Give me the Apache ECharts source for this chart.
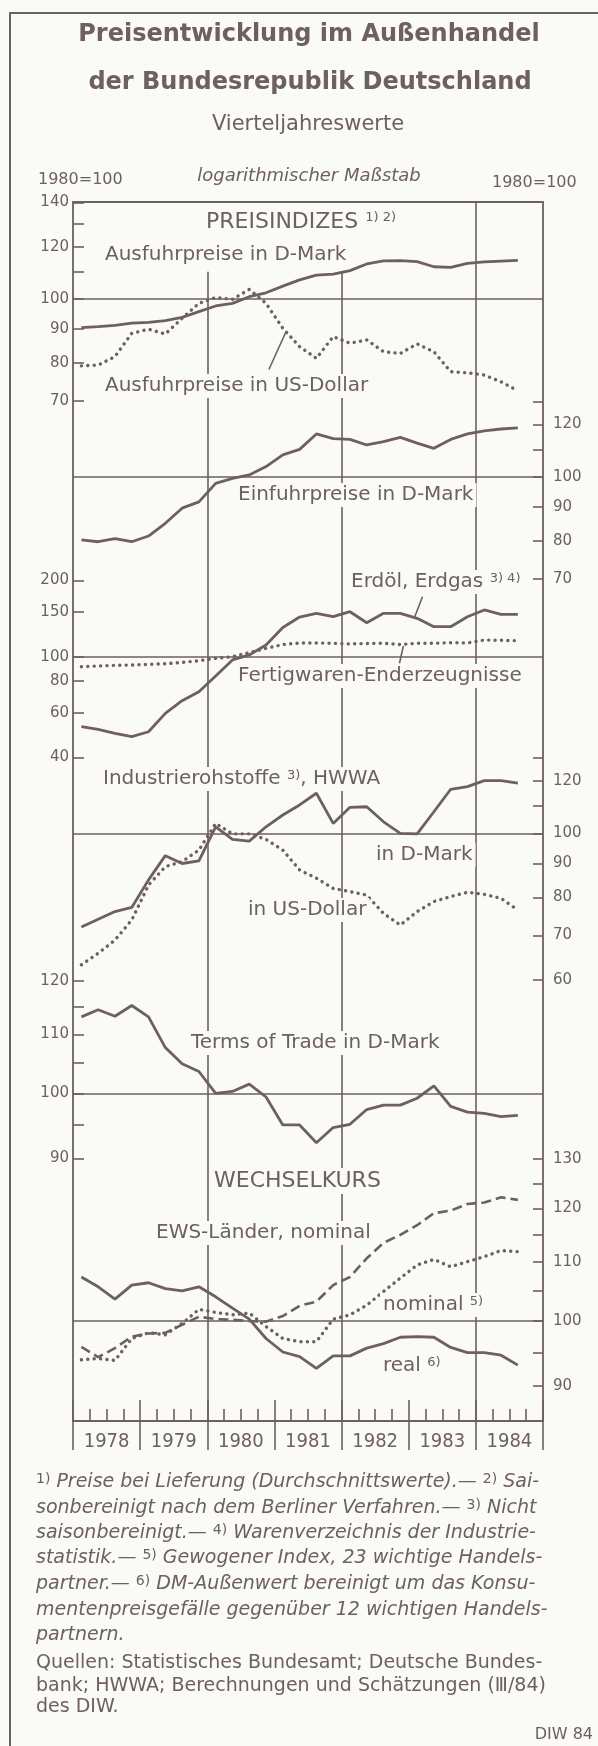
<!DOCTYPE html>
<html>
<head>
<meta charset="utf-8">
<title>Preisentwicklung im Außenhandel der Bundesrepublik Deutschland</title>
<script src="https://cdn.jsdelivr.net/npm/echarts@6/dist/echarts.min.js"></script>
<style>
  html, body { margin: 0; padding: 0; background: #fafaf8; }
  #chart { width: 598px; height: 1746px; }
</style>
</head>
<body>
<div id="chart"></div>
<script>
// Vierteljahreswerte 1978 I bis 1984 III, 1980 = 100
const years = ['1978', '1979', '1980', '1981', '1982', '1983', '1984'];

const ausfuhrDM  = [90.5, 90.8, 91.2, 91.9, 92.2, 92.7, 93.8, 95.7, 97.6, 98.5, 100.8, 102.2, 104.6, 106.9, 108.7, 109.1, 110.4, 113.0, 114.2, 114.3, 113.9, 111.9, 111.7, 113.2, 113.8, 114.1, 114.4];
const ausfuhrUSD = [79.2, 79.4, 81.8, 88.7, 90.0, 88.5, 93.5, 98.5, 100.5, 99.9, 103.4, 98.5, 90.3, 84.7, 81.3, 87.7, 85.7, 86.7, 83.2, 82.7, 85.5, 83.2, 77.6, 77.3, 76.7, 74.9, 72.6];
const einfuhrDM  = [80.2, 79.7, 80.6, 79.7, 81.3, 85.0, 89.6, 91.6, 97.7, 99.4, 100.6, 103.6, 107.9, 110.0, 116.1, 114.2, 113.9, 111.7, 113.0, 114.7, 112.4, 110.4, 113.9, 116.1, 117.3, 118.1, 118.6];
const erdoelGas  = [52.9, 51.6, 49.8, 48.3, 50.5, 59.7, 67.0, 72.7, 83.9, 97.1, 101.6, 111.2, 130.4, 143.5, 148.4, 143.9, 150.6, 136.2, 148.4, 148.4, 141.8, 131.4, 131.4, 143.9, 153.0, 147.1, 147.1];
const fertigwaren = [91.3, 91.9, 92.5, 92.7, 93.3, 93.8, 94.9, 96.4, 98.5, 100.0, 103.7, 107.9, 111.7, 113.3, 113.3, 113.0, 112.3, 112.8, 113.0, 111.7, 113.0, 113.0, 113.6, 113.3, 116.4, 116.1, 115.7];
const rohstoffDM  = [72.1, 74.1, 76.1, 77.2, 85.0, 92.5, 90.0, 90.8, 102.3, 97.9, 97.3, 102.3, 106.6, 110.4, 115.0, 103.5, 109.5, 109.7, 104.1, 100.0, 99.8, 107.8, 116.6, 117.7, 120.2, 120.2, 119.1];
const rohstoffUSD = [63.2, 65.8, 68.9, 73.9, 83.5, 89.0, 90.6, 94.3, 103.5, 99.8, 99.8, 97.9, 94.3, 88.0, 85.5, 82.5, 81.6, 80.6, 75.6, 72.6, 76.1, 78.8, 80.2, 81.4, 80.8, 79.7, 76.5];
const termsOfTrade = [113.2, 114.5, 113.3, 115.3, 113.2, 107.7, 104.9, 103.6, 100.0, 100.3, 101.5, 99.4, 95.0, 95.0, 92.3, 94.6, 95.1, 97.4, 98.1, 98.1, 99.2, 101.2, 97.9, 97.0, 96.8, 96.3, 96.5];
const ewsNominal = [95.9, 94.3, 95.7, 97.5, 98.0, 98.1, 99.4, 100.7, 100.3, 100.2, 100.0, 99.9, 100.8, 102.5, 103.2, 106.0, 107.4, 110.7, 113.5, 115.0, 116.8, 119.1, 119.6, 120.9, 121.2, 122.2, 121.7];
const kursNominal = [93.9, 94.1, 93.8, 97.2, 98.1, 97.8, 99.6, 101.9, 101.4, 101.0, 101.3, 99.1, 97.2, 96.7, 96.7, 100.3, 101.0, 102.6, 104.9, 107.2, 109.5, 110.5, 109.2, 110.1, 111.0, 112.1, 111.9];
const kursReal    = [107.4, 105.7, 103.6, 106.0, 106.4, 105.4, 105.0, 105.7, 104.0, 102.1, 100.3, 97.2, 95.1, 94.4, 92.6, 94.5, 94.5, 95.7, 96.4, 97.4, 97.5, 97.4, 95.8, 95.0, 95.0, 94.6, 93.1];

// tick marks and labelled ticks of each scale
const ticks1 = [70, 80, 90, 100, 110, 120, 130, 140];
const labels1 = [70, 80, 90, 100, 120, 140];
const ticks2 = [70, 80, 90, 100, 110, 120, 130];
const labels2 = [70, 80, 90, 100, 120];
const ticks3 = [40, 60, 80, 100, 150, 200];
const labels3 = [40, 60, 80, 100, 150, 200];
const ticks4 = [60, 70, 80, 90, 100, 110, 120, 130];
const labels4 = [60, 70, 80, 90, 100, 120];
const ticks5 = [90, 95, 100, 105, 110, 115, 120];
const labels5 = [90, 100, 110, 120];
const ticks6 = [90, 95, 100, 105, 110, 115, 120, 125, 130];
const labels6 = [90, 100, 110, 120, 130];

const ink = '#6d605e';
const paper = '#fafaf8';
const sans = '"DejaVu Sans", sans-serif';
const narrow = '"Liberation Sans Narrow", "DejaVu Sans Condensed", sans-serif';

// plot frame (px)
const plotTop = 202, plotBottom = 1421;
const plotH = plotBottom - plotTop;

// every panel is its own log scale: px per decade and height of its 100 line
function logAxis(position, pxPerDecade, y100, tickVals, labelVals) {
  const min = 2 - (plotBottom - y100) / pxPerDecade;
  return {
    type: 'value',
    position: position,
    min: min,
    max: min + plotH / pxPerDecade,
    axisLine: { show: false, onZero: false },
    splitLine: { show: false },
    axisTick: {
      show: true, inside: true,
      length: position === 'left' ? 11 : 10,
      customValues: tickVals.map(Math.log10),
      lineStyle: { color: ink, width: 1.6 }
    },
    axisLabel: {
      show: true,
      customValues: labelVals.map(Math.log10),
      formatter: v => String(Math.round(Math.pow(10, v))),
      margin: position === 'left' ? 4 : 10,
      color: ink, fontFamily: sans, fontSize: 15
    }
  };
}

const yAxes = [
  logAxis('left', 660, 299, ticks1, labels1),
  logAxis('right', 660, 476.7, ticks2, labels2),
  logAxis('left', 253, 656.7, ticks3, labels3),
  logAxis('right', 660, 833.3, ticks4, labels4),
  logAxis('left', 1420, 1093.3, ticks5, labels5),
  logAxis('right', 1420, 1321, ticks6, labels6)
];

const solid = { color: ink, width: 2.8, type: 'solid' };
const dotted = { color: ink, width: 3.4, type: [0.1, 6.3], cap: 'round' };
const dashed = { color: ink, width: 2.6, type: [10, 5] };
const thin = { color: ink, width: 1.6, type: 'solid' };

const toXY = vals => vals.map((v, i) => [i + 0.5, Math.log10(v)]);
const pt = (q, v) => ({ coord: [q, Math.log10(v)] });

function marks(lines) {
  return {
    silent: true, symbol: ['none', 'none'], label: { show: false },
    lineStyle: thin, animation: false, data: lines
  };
}
const line100 = [{ yAxis: 2 }];

function line(name, vals, axis, style, markLine) {
  const s = {
    name: name, type: 'line', xAxisIndex: 0, yAxisIndex: axis,
    data: toXY(vals), showSymbol: false, symbol: 'none',
    lineStyle: style, itemStyle: { color: ink }, z: 3,
    silent: true, animation: false, emphasis: { disabled: true }
  };
  if (markLine) s.markLine = marks(markLine);
  return s;
}

const p1 = yAxes[0];
const yearLines = [
  [pt(8, 110), { coord: [8, p1.min] }],
  [pt(16, 110), { coord: [16, p1.min] }],
  [{ coord: [24, p1.max] }, { coord: [24, p1.min] }]
];

const series = [
  line('Ausfuhrpreise in D-Mark', ausfuhrDM, 0, solid, line100.concat(yearLines)),
  line('Ausfuhrpreise in US-Dollar', ausfuhrUSD, 0, dotted, [[pt(12.69, 89.2), pt(11.67, 78.2)]]),
  line('Einfuhrpreise in D-Mark', einfuhrDM, 1, solid, line100),
  line('Erdöl, Erdgas', erdoelGas, 2, solid, line100.concat([[pt(20.82, 172.6), pt(20.36, 143.9)]])),
  line('Fertigwaren-Enderzeugnisse', fertigwaren, 2, dotted, [[pt(19.68, 110.2), pt(19.45, 94.2)]]),
  line('Industrierohstoffe in D-Mark', rohstoffDM, 3, solid, line100),
  line('Industrierohstoffe in US-Dollar', rohstoffUSD, 3, dotted),
  line('Terms of Trade in D-Mark', termsOfTrade, 4, solid, line100),
  line('EWS-Länder, nominal', ewsNominal, 5, dashed, line100),
  line('nominal', kursNominal, 5, dotted),
  line('real', kursReal, 5, solid)
];

// text helpers
const sup = { fontFamily: sans, fontSize: 13, fill: ink, verticalAlign: 'top' };

function tag(x, y, text, size) {
  const fs = size || 20;
  return {
    type: 'text', x: x, y: y, z: 100, silent: true,
    style: {
      text: text, fill: ink, fontFamily: sans, fontSize: fs,
      align: 'left', verticalAlign: 'middle',
      backgroundColor: paper, padding: [2, 3, 2, 3],
      rich: { a: { fontFamily: sans, fontSize: fs, fill: ink }, s: sup }
    }
  };
}
function head(x, y, text, st) {
  return {
    type: 'text', x: x, y: y, z: 100, silent: true,
    style: Object.assign({ text: text, fill: ink, fontFamily: sans, align: 'center', verticalAlign: 'middle' }, st)
  };
}
const noteRich = {
  i: { fontFamily: sans, fontStyle: 'italic', fontSize: 19, fill: ink },
  n: { fontFamily: sans, fontSize: 14, fill: ink, verticalAlign: 'top' }
};
function note(y, text) {
  return {
    type: 'text', x: 36, y: y, z: 100, silent: true,
    style: { text: text, fill: ink, align: 'left', verticalAlign: 'middle', rich: noteRich }
  };
}
function source(y, text) {
  return {
    type: 'text', x: 36, y: y, z: 100, silent: true,
    style: { text: text, fill: ink, fontFamily: sans, fontSize: 19, align: 'left', verticalAlign: 'middle' }
  };
}

const graphics = [
  { type: 'rect', z: 0, silent: true, shape: { x: 10, y: 13, width: 620, height: 1760 },
    style: { fill: 'none', stroke: ink, lineWidth: 2 } },
  head(309, 35, 'Preisentwicklung im Außenhandel', { fontSize: 24, fontWeight: 'bold' }),
  head(310, 83, 'der Bundesrepublik Deutschland', { fontSize: 24, fontWeight: 'bold' }),
  head(308, 125, 'Vierteljahreswerte', { fontSize: 21 }),
  head(38, 180, '1980=100', { fontSize: 16, align: 'left' }),
  head(309, 176, 'logarithmischer Maßstab', { fontSize: 18, fontStyle: 'italic' }),
  head(492, 183, '1980=100', { fontSize: 16, align: 'left' }),

  tag(203, 222, '{a|PREISINDIZES} {s|1) 2)}', 22),
  tag(102, 255, 'Ausfuhrpreise in D-Mark'),
  tag(102, 386, 'Ausfuhrpreise in US-Dollar'),
  tag(235, 495, 'Einfuhrpreise in D-Mark'),
  tag(348, 582, '{a|Erdöl, Erdgas} {s|3) 4)}'),
  tag(235, 676, 'Fertigwaren-Enderzeugnisse'),
  tag(100, 779, '{a|Industrierohstoffe} {s|3)}{a|, HWWA}'),
  tag(373, 855, 'in D-Mark'),
  tag(245, 910, 'in US-Dollar'),
  tag(188, 1043, 'Terms of Trade in D-Mark'),
  tag(211, 1181, 'WECHSELKURS', 22),
  tag(153, 1233, 'EWS-Länder, nominal'),
  tag(380, 1305, '{a|nominal} {s|5)}'),
  tag(380, 1366, '{a|real} {s|6)}'),

  note(1482, '{n|1)}{i| Preise bei Lieferung (Durchschnittswerte).— }{n|2)}{i| Sai-}'),
  note(1508, '{i|sonbereinigt nach dem Berliner Verfahren.— }{n|3)}{i| Nicht}'),
  note(1533, '{i|saisonbereinigt.— }{n|4)}{i| Warenverzeichnis der Industrie-}'),
  note(1558, '{i|statistik.— }{n|5)}{i| Gewogener Index, 23 wichtige Handels-}'),
  note(1584, '{i|partner.— }{n|6)}{i| DM-Außenwert bereinigt um das Konsu-}'),
  note(1610, '{i|mentenpreisgefälle gegenüber 12 wichtigen Handels-}'),
  note(1635, '{i|partnern.}'),
  source(1663, 'Quellen: Statistisches Bundesamt; Deutsche Bundes-'),
  source(1686, 'bank; HWWA; Berechnungen und Schätzungen (Ⅲ/84)'),
  source(1707, 'des DIW.'),
  head(593, 1735, 'DIW 84', { fontSize: 16, align: 'right' })
];

const chart = echarts.init(document.getElementById('chart'), null, { renderer: 'canvas' });
chart.setOption({
  backgroundColor: paper,
  animation: false,
  grid: {
    left: 73, right: 55, top: plotTop, bottom: 1746 - plotBottom,
    show: true, borderColor: ink, borderWidth: 1.8, backgroundColor: 'transparent',
    outerBoundsMode: 'none'
  },
  xAxis: [
    {
      type: 'value', position: 'bottom', min: 0, max: 28, interval: 4,
      axisLine: { show: true, onZero: false, lineStyle: { color: ink, width: 1.8 } },
      axisTick: { show: true, inside: true, length: 21, lineStyle: { color: ink, width: 1.6 } },
      minorTick: { show: true, splitNumber: 4, length: 12, lineStyle: { color: ink, width: 1.6 } },
      splitLine: { show: false }, minorSplitLine: { show: false },
      axisLabel: {
        customValues: years.map((y, i) => 4 * i + 2),
        formatter: v => years[Math.round((v - 2) / 4)],
        margin: 11, color: ink, fontFamily: narrow, fontSize: 20
      }
    },
    {
      type: 'value', position: 'bottom', min: 0, max: 28, interval: 4,
      axisLine: { show: false, onZero: false },
      axisTick: { show: true, inside: false, length: 29, lineStyle: { color: ink, width: 1.6 } },
      axisLabel: { show: false },
      splitLine: { show: false }
    }
  ],
  yAxis: yAxes,
  series: series,
  graphic: { elements: graphics }
});
</script>
</body>
</html>
